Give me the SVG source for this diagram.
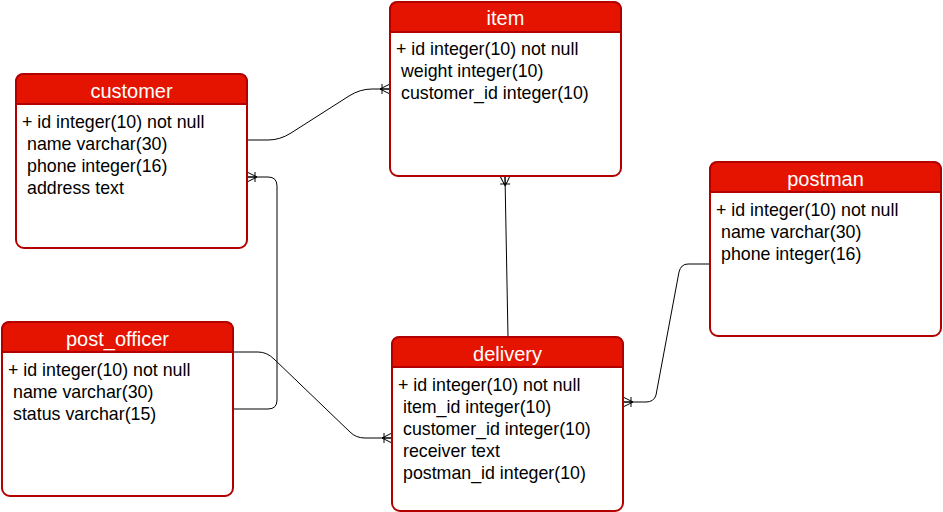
<svg xmlns="http://www.w3.org/2000/svg" width="943" height="512" viewBox="0 0 943 512">
<defs>
<style>
.box{fill:#ffffff;stroke:#b20000;stroke-width:2}
.hdr{fill:#e51400;stroke:#b20000;stroke-width:2}
.title{font-family:"Liberation Sans",Arial,sans-serif;font-size:20px;fill:#ffffff;text-anchor:middle}
.row{font-family:"Liberation Sans",Arial,sans-serif;font-size:17.8px;fill:#000000}
.conn{fill:none;stroke:#000000;stroke-width:1}
</style>
<marker id="oneMany" viewBox="-12 -7 14 14" refX="0" refY="0" markerWidth="14" markerHeight="14" markerUnits="userSpaceOnUse" orient="auto">
<path d="M-10,0 L0,-5 M-10,0 L0,5 M-10,0 L0,0 M-8,-5 L-8,5" fill="none" stroke="#000" stroke-width="1"/>
</marker>
</defs>

<g id="connectors">
<path class="conn" d="M247,140 L268,140 Q280,140 291,133 L349,96 Q360,89 372,89 L390,89" marker-end="url(#oneMany)"/>
<path class="conn" d="M233,409 L268,409 Q277,409 277,400 L277,186 Q277,177 268,177 L247,177" marker-end="url(#oneMany)"/>
<path class="conn" d="M233,352 L258,352 Q267,352 274,359 L350,432 Q356,438 365,438 L392,438" marker-end="url(#oneMany)"/>
<path class="conn" d="M508,337 L505,176" marker-end="url(#oneMany)"/>
<path class="conn" d="M710,264 L688,264 Q681,264 679,272 L656,395 Q654,402 646,402 L623,402" marker-end="url(#oneMany)"/>
</g>

<g id="item">
<rect class="box" x="390" y="2" width="231" height="174" rx="8"/>
<path class="hdr" d="M390,32 L390,10 Q390,2 398,2 L613,2 Q621,2 621,10 L621,32 Z"/>
<text class="title" x="505.5" y="25">item</text>
<text class="row" x="396" y="55">+ id integer(10) not null</text>
<text class="row" x="401" y="77">weight integer(10)</text>
<text class="row" x="401" y="99">customer_id integer(10)</text>
</g>

<g id="customer">
<rect class="box" x="16" y="74" width="231" height="174" rx="8"/>
<path class="hdr" d="M16,104 L16,82 Q16,74 24,74 L239,74 Q247,74 247,82 L247,104 Z"/>
<text class="title" x="131.5" y="98">customer</text>
<text class="row" x="22" y="128">+ id integer(10) not null</text>
<text class="row" x="27" y="150">name varchar(30)</text>
<text class="row" x="27" y="172">phone integer(16)</text>
<text class="row" x="27" y="194">address text</text>
</g>

<g id="postman">
<rect class="box" x="710" y="162" width="231" height="174" rx="8"/>
<path class="hdr" d="M710,192 L710,170 Q710,162 718,162 L933,162 Q941,162 941,170 L941,192 Z"/>
<text class="title" x="825.5" y="186">postman</text>
<text class="row" x="716" y="216">+ id integer(10) not null</text>
<text class="row" x="721" y="238">name varchar(30)</text>
<text class="row" x="721" y="260">phone integer(16)</text>
</g>

<g id="post_officer">
<rect class="box" x="2" y="322" width="231" height="174" rx="8"/>
<path class="hdr" d="M2,352 L2,330 Q2,322 10,322 L225,322 Q233,322 233,330 L233,352 Z"/>
<text class="title" x="117.5" y="346">post_officer</text>
<text class="row" x="8" y="376">+ id integer(10) not null</text>
<text class="row" x="13" y="398">name varchar(30)</text>
<text class="row" x="13" y="420">status varchar(15)</text>
</g>

<g id="delivery">
<rect class="box" x="392" y="337" width="231" height="174" rx="8"/>
<path class="hdr" d="M392,367 L392,345 Q392,337 400,337 L615,337 Q623,337 623,345 L623,367 Z"/>
<text class="title" x="507.5" y="361">delivery</text>
<text class="row" x="398" y="391">+ id integer(10) not null</text>
<text class="row" x="403" y="413">item_id integer(10)</text>
<text class="row" x="403" y="435">customer_id integer(10)</text>
<text class="row" x="403" y="457">receiver text</text>
<text class="row" x="403" y="479">postman_id integer(10)</text>
</g>
</svg>
